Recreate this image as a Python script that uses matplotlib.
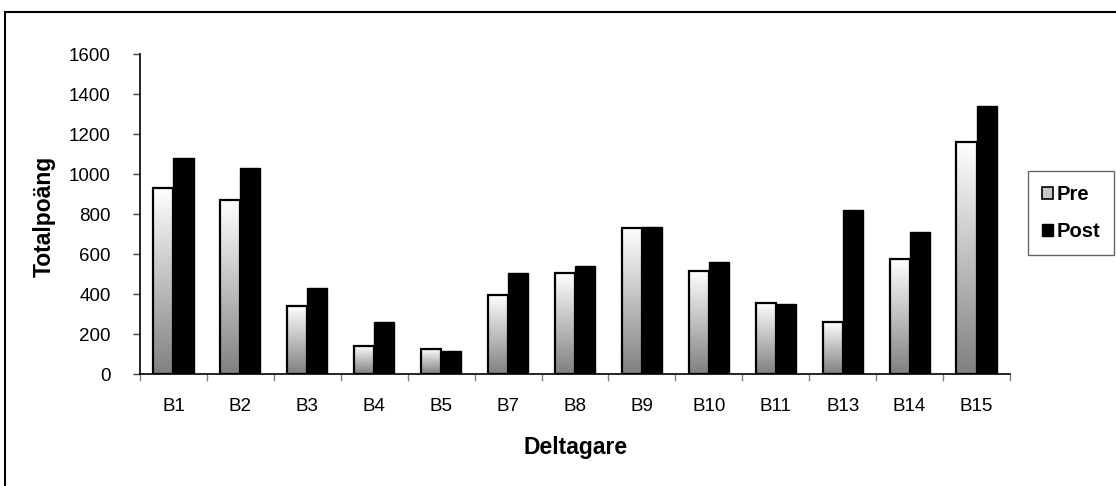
import numpy as np
import matplotlib
matplotlib.use("Agg")
import matplotlib.pyplot as plt
from matplotlib.patches import Rectangle, Patch

plt.rcParams['font.family'] = ['Liberation Sans', 'DejaVu Sans']

# data
participants = ['B1', 'B2', 'B3', 'B4', 'B5', 'B7', 'B8', 'B9', 'B10', 'B11', 'B13', 'B14', 'B15']
pre = [928, 870, 340, 140, 125, 395, 507, 730, 517, 355, 260, 573, 1160]
post = [1078, 1032, 430, 258, 113, 507, 538, 735, 558, 352, 818, 708, 1342]
yticks = [0, 200, 400, 600, 800, 1000, 1200, 1400, 1600]

W, H = 1116, 486
fig = plt.figure(figsize=(W / 100, H / 100), dpi=100)
ax = fig.add_axes([140 / W, 1 - 374 / H, 870 / W, 320 / H])

x = np.arange(len(participants))
bw = 0.30
pre_bars = ax.bar(x - bw / 2, pre, bw, facecolor='none', edgecolor='black', linewidth=1.6, zorder=3)
ax.bar(x + bw / 2, post, bw, facecolor='black', edgecolor='black', linewidth=1.0, zorder=3)

# white-to-grey gradient inside each Pre bar
grad = np.linspace(1.0, 0.5, 256).reshape(-1, 1)
for b in pre_bars:
    x0, y0 = b.get_x(), b.get_y()
    ax.imshow(grad, cmap='gray', vmin=0, vmax=1, aspect='auto',
              extent=(x0, x0 + b.get_width(), y0, y0 + b.get_height()),
              origin='upper', zorder=2, interpolation='bilinear')

ax.set_xlim(-0.5, len(participants) - 0.5)
ax.set_ylim(0, 1600)
ax.set_yticks(yticks)
ax.set_yticklabels([str(v) for v in yticks])

# ticks between categories, labels at centers
ax.set_xticks(np.arange(len(participants) + 1) - 0.5)
ax.set_xticklabels([])
ax.set_xticks(x, minor=True)
ax.set_xticklabels(participants, minor=True)
ax.tick_params(axis='x', which='major', direction='out', length=5, width=1, color='#808080')
ax.tick_params(axis='x', which='minor', length=0, pad=17, labelsize=13.5)
ax.tick_params(axis='y', direction='out', length=5, width=1, color='#404040', pad=16, labelsize=13.5)

for s in ['top', 'right']:
    ax.spines[s].set_visible(False)
ax.spines['left'].set_linewidth(1.2)
ax.spines['bottom'].set_linewidth(1.2)

fig.text(576 / W, 1 - 447 / H, 'Deltagare', ha='center', va='center', fontsize=16.5, fontweight='bold')
fig.text(44 / W, 1 - 216 / H, 'Totalpoäng', ha='center', va='center', rotation=90,
         fontsize=16.5, fontweight='bold')

handles = [Patch(facecolor='#c8c8c8', edgecolor='black', linewidth=1.2, label='Pre'),
           Patch(facecolor='black', edgecolor='black', label='Post')]
leg = fig.legend(handles=handles, loc='center', bbox_to_anchor=(1071 / W, 1 - 213 / H),
                 frameon=True, fancybox=False, handlelength=0.55, handleheight=0.55,
                 handletextpad=0.2, labelspacing=0.9, borderpad=0.7,
                 prop={'weight': 'bold', 'size': 14.5})
leg.get_frame().set_edgecolor('#404040')
leg.get_frame().set_linewidth(1.0)

# outer chart border (only left and top edges fall inside the image)
fig.add_artist(Rectangle((5 / W, -0.1), 1.2, 1.1 - 12 / H, transform=fig.transFigure,
                         fill=False, edgecolor='black', linewidth=1.5))

fig.savefig('out.png', dpi=100)
